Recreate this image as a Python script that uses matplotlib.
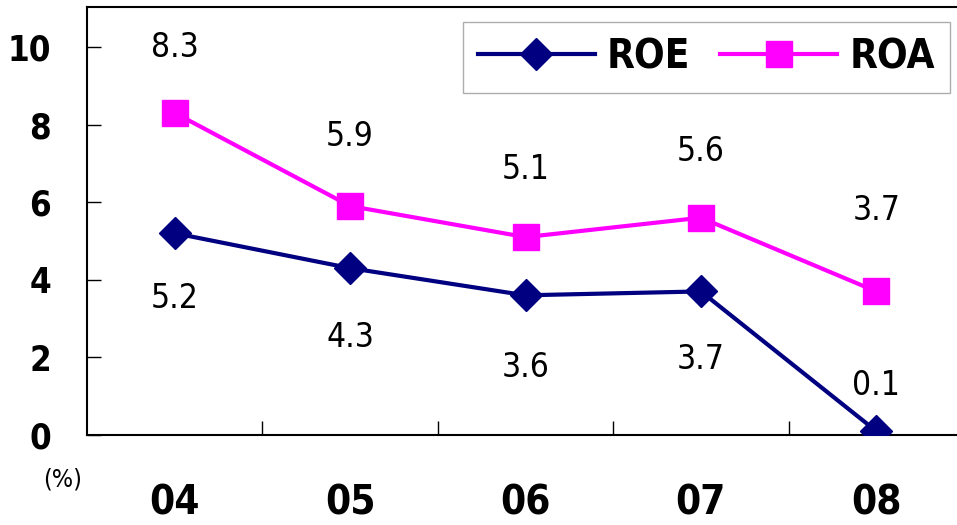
import matplotlib
matplotlib.use("Agg")
import matplotlib.pyplot as plt
import numpy as np

plt.rcParams['font.family'] = ['DejaVu Sans']
plt.rcParams['font.stretch'] = 'condensed'

years = ['04', '05', '06', '07', '08']
roe = [5.2, 4.3, 3.6, 3.7, 0.1]
roa = [8.3, 5.9, 5.1, 5.6, 3.7]

# label offsets in points (dy) for each point
roe_dy = [-47, -50, -52, -49, 33]
roa_dy = [47, 50, 49, 48, 58]

navy = '#000080'
pink = '#FF00FF'

fig = plt.figure(figsize=(9.57, 5.25), dpi=100)
ax = fig.add_axes([87/957, 90/525, 877/957, 428/525])

x = np.arange(len(years))
ax.plot(x, roe, color=navy, lw=3, marker='D', ms=16, label='ROE', zorder=3)
ax.plot(x, roa, color=pink, lw=3, marker='s', ms=19, label='ROA', zorder=3)

for i in range(len(x)):
    ax.annotate('%.1f' % roe[i], (x[i], roe[i]), xytext=(0, roe_dy[i]),
                textcoords='offset points', ha='center', va='center', fontsize=24)
    ax.annotate('%.1f' % roa[i], (x[i], roa[i]), xytext=(0, roa_dy[i]),
                textcoords='offset points', ha='center', va='center', fontsize=24)

ax.set_xlim(-0.5, 4.5)
ax.set_ylim(0, 11.03)
ax.set_yticks([0, 2, 4, 6, 8, 10])
ax.set_xticks(np.arange(0.5, 4.5, 1.0))
ax.set_xticklabels([])
ax.tick_params(axis='x', which='major', direction='in', length=10, width=1)
ax.tick_params(axis='y', direction='in', length=10, width=1, labelsize=25, pad=26)
for lab in ax.get_yticklabels():
    lab.set_fontweight('bold')

for i, yr in enumerate(years):
    ax.text(x[i], -0.16, yr, transform=ax.get_xaxis_transform(), ha='center', va='center',
            fontsize=29, fontweight='bold')

ax.text(-0.028, -0.103, '(%)', transform=ax.transAxes, ha='center', va='center', fontsize=18)

for side in ['left', 'bottom', 'top']:
    ax.spines[side].set_linewidth(1.5)
    ax.spines[side].set_color('black')
ax.spines['right'].set_visible(False)

leg = ax.legend(loc='upper right', ncol=2, frameon=True, fancybox=False,
                handlelength=2.9, columnspacing=0.75, handletextpad=0.3, borderpad=0.38,
                borderaxespad=0, prop={'weight': 'bold', 'size': 29})
leg.set_bbox_to_anchor((863/877, 1 - 15/428), transform=ax.transAxes)
leg.get_frame().set_edgecolor('#999999')
leg.get_frame().set_linewidth(1)

fig.savefig('out.png', dpi=100)
